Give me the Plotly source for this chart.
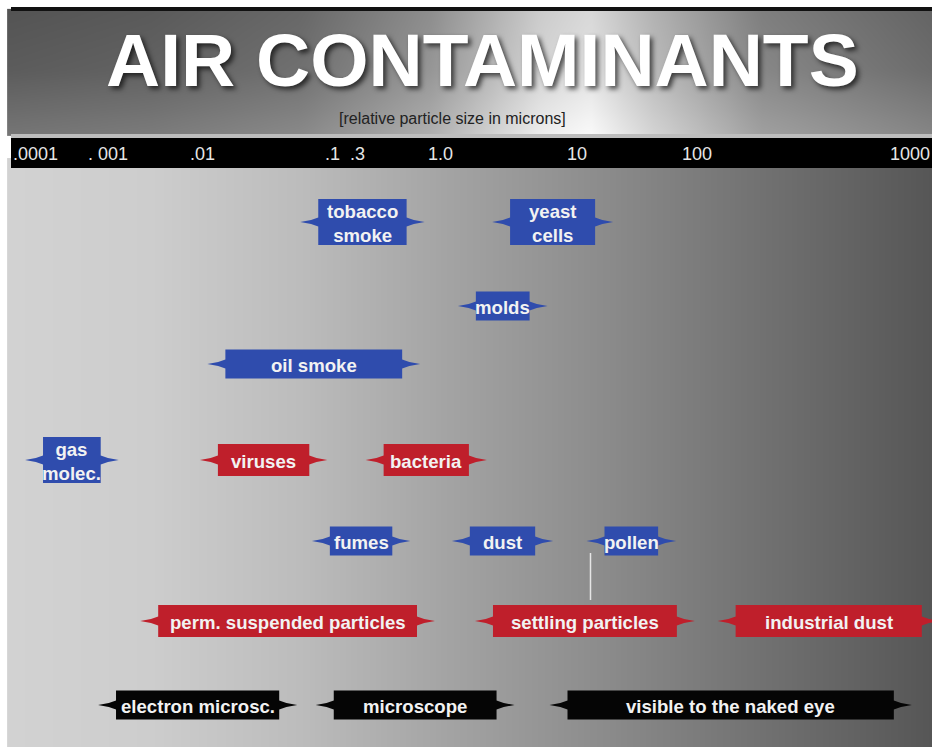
import numpy as np
import plotly.graph_objects as go

# ---------------- data ----------------
tick_values = [0.0001, 0.001, 0.01, 0.1, 0.3, 1.0, 10, 100, 1000]
tick_labels = [".0001", ". 001", ".01", ".1", ".3", "1.0", "10", "100", "1000"]

reference_size = 0.3  # microns, red marker line

names = ["tobacco<br>smoke", "yeast<br>cells", "molds", "oil smoke", "gas<br>molec.",
         "viruses", "bacteria", "fumes", "dust", "pollen",
         "perm. suspended particles", "settling particles", "industrial dust",
         "electron microsc.", "microscope", "visible to the naked eye"]
size_min = [0.057, 2.4, 1.35, 0.011, 0.000073,
            0.0095, 0.34, 0.07, 1.22, 12,
            0.0022, 1.8, 125,
            0.00073, 0.075, 6.3]
size_max = [0.80, 20, 6.1, 0.75, 0.0013,
            0.092, 2.2, 0.65, 6.7, 67,
            0.93, 96, 1380,
            0.054, 3.5, 1020]
kinds = ["contaminant", "contaminant", "contaminant", "contaminant", "contaminant",
         "class", "class", "contaminant", "contaminant", "contaminant",
         "class", "class", "class",
         "visibility", "visibility", "visibility"]
rows = [0, 0, 1, 2, 3, 3, 3, 4, 4, 4, 5, 5, 5, 6, 6, 6]

# ---------------- layout / scale ----------------
W, H = 932, 747
tick_px = [35, 108, 202, 332, 357, 440, 577, 697, 910]   # non-uniform log scale anchors
row_y = [222, 306, 364, 460, 541, 621, 705]
kind_color = {"contaminant": "#2f4cad", "class": "#bf1f2b", "visibility": "#050505"}
SPIKE = 18
FONT = "Liberation Sans, Arial, sans-serif"

logs = np.log10(tick_values)


def to_x(v):
    L = np.log10(v)
    if L < logs[0]:
        return tick_px[0] + (L - logs[0]) * (tick_px[1] - tick_px[0]) / (logs[1] - logs[0])
    if L > logs[-1]:
        return tick_px[-1] + (L - logs[-1]) * (tick_px[-1] - tick_px[-2]) / (logs[-1] - logs[-2])
    return float(np.interp(L, logs, tick_px))


fig = go.Figure()

# ---- background gradients (styling only) ----
def gray_heat(x0, x1, y0, y1, xs, gx, ys, gy):
    xg = np.linspace(x0, x1, 120)
    yg = np.linspace(y0, y1, 30)
    base = np.interp(xg, xs, gx)
    vert = np.interp(yg, ys, gy)
    z = np.clip(vert[:, None] + base[None, :], 0, 255)
    fig.add_trace(go.Heatmap(x=xg, y=yg, z=z, zmin=0, zmax=255,
                             colorscale=[[0, "#000000"], [1, "#ffffff"]],
                             showscale=False, zsmooth="best", hoverinfo="skip"))

# header
gray_heat(11, W, 11, 134,
          [11, 150, 300, 430, 540, 590, 650, 760, 932],
          [92, 98, 112, 150, 212, 225, 188, 135, 108],
          [11, 70, 134], [-8, 0, 25])
# main area
gray_heat(11, W, 168, 745,
          [11, 150, 300, 450, 600, 750, 932],
          [210, 205, 188, 163, 140, 115, 86],
          [168, 745], [0, 0])

shapes = []
# top black border
shapes.append(dict(type="rect", x0=11, x1=W, y0=7, y1=11, fillcolor="#111111", line_width=0, layer="above"))
# light strip under header
shapes.append(dict(type="rect", x0=11, x1=W, y0=134, y1=138, fillcolor="#bdbdbd", line_width=0))
# black tick bar
shapes.append(dict(type="rect", x0=11, x1=W, y0=138, y1=168, fillcolor="#000000", line_width=0))
# red reference line
xr = to_x(reference_size)
shapes.append(dict(type="line", x0=xr, x1=xr, y0=168, y1=745, line=dict(color="#d9464a", width=2), layer="below"))
# thin light line below pollen
xp = to_x(size_min[names.index("pollen")]) + 4
shapes.append(dict(type="line", x0=xp, x1=xp, y0=553, y1=600, line=dict(color="#e6e6e6", width=1.5)))

# ---- arrow bars ----
annotations = []
for name, lo, hi, kind, r in zip(names, size_min, size_max, kinds, rows):
    xt0, xt1 = to_x(lo), to_x(hi)
    xl, xrr = xt0 + SPIKE, xt1 - SPIKE
    yc = row_y[r]
    two = "<br>" in name
    h = 46 if two else (32 if kind == "class" else 29)
    yt, yb = yc - h / 2, yc + h / 2
    s = SPIKE
    px = [xl, xrr, xrr, xrr + s * 0.4, xrr + s, xrr + s * 0.4, xrr, xrr, xl, xl, xl - s * 0.4, xl - s, xl - s * 0.4, xl, xl]
    py = [yt, yt, yc - 4.5, yc - 2, yc, yc + 2, yc + 4.5, yb, yb, yc + 4.5, yc + 2, yc, yc - 2, yc - 4.5, yt]
    fig.add_trace(go.Scatter(x=px, y=py, mode="lines", fill="toself", fillcolor=kind_color[kind],
                             line=dict(width=0, color=kind_color[kind]), hoverinfo="skip", showlegend=False))
    annotations.append(dict(x=(xl + xrr) / 2, y=yc + 1, text=name, showarrow=False,
                            font=dict(family=FONT, size=18.6, color="#f2f2f2", weight="bold"),
                            xanchor="center", yanchor="middle"))

# tick labels
for v, lab in zip(tick_values, tick_labels):
    annotations.append(dict(x=to_x(v), y=154, text=lab, showarrow=False,
                            font=dict(family=FONT, size=18, color="#e6e6e6"),
                            xanchor="center", yanchor="middle"))

# title & subtitle
annotations.append(dict(x=482, y=60, text="AIR CONTAMINANTS", showarrow=False,
                        font=dict(family="Liberation Sans, Arial, sans-serif", size=75, color="#ffffff",
                                  weight="bold", shadow="3px 3px 5px rgba(0,0,0,0.65)"),
                        xanchor="center", yanchor="middle"))
annotations.append(dict(x=452, y=118, text="[relative particle size in microns]", showarrow=False,
                        font=dict(family=FONT, size=16, color="#222222"),
                        xanchor="center", yanchor="middle"))

fig.update_layout(
    width=W, height=H, margin=dict(l=0, r=0, t=0, b=0),
    paper_bgcolor="#ffffff", plot_bgcolor="#ffffff",
    xaxis=dict(range=[0, W], visible=False, fixedrange=True),
    yaxis=dict(range=[H, 0], visible=False, fixedrange=True),
    shapes=shapes, annotations=annotations, showlegend=False,
)

fig.write_html("out.html", config={"displayModeBar": False},
               post_script="document.body.style.margin='0';document.body.style.overflow='hidden';")
